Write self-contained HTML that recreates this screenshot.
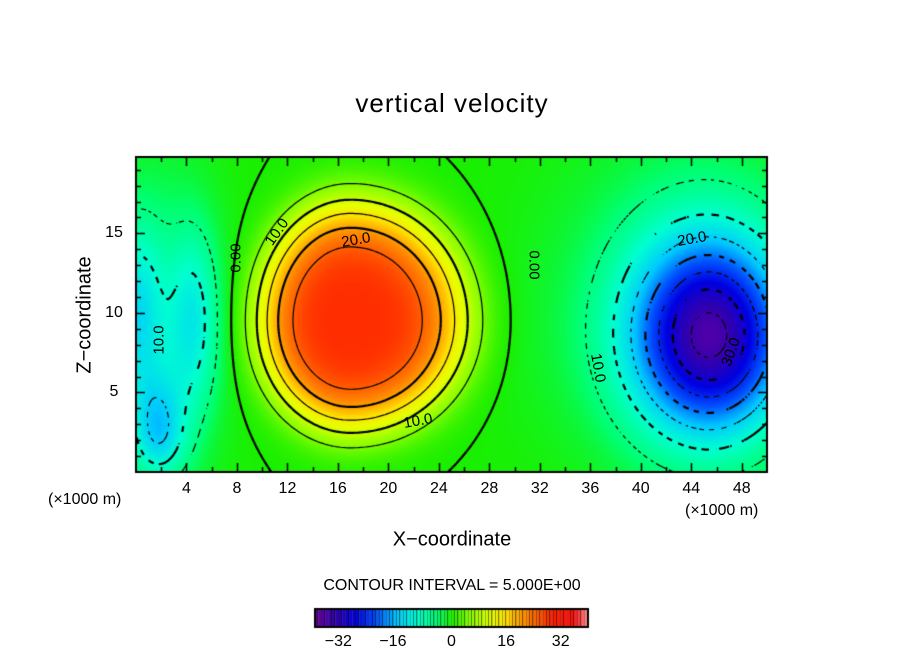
<!DOCTYPE html>
<html><head><meta charset="utf-8">
<style>
html,body{margin:0;padding:0;background:#fff;}
#wrap{position:relative;width:904px;height:654px;overflow:hidden;font-family:"Liberation Sans",sans-serif;color:#000;}
.t{position:absolute;white-space:nowrap;}
.lbl{position:absolute;font-size:16px;line-height:16px;transform:translate(-50%,-50%);white-space:nowrap;}
.cl{position:absolute;font-size:15px;line-height:15px;white-space:nowrap;transform:translate(-50%,-50%);}
</style></head><body>
<div id="wrap">
<div class="t" style="left:0;width:904px;text-align:center;top:88px;font-size:26px;letter-spacing:1px;">vertical velocity</div>
<canvas id="cv" width="904" height="654" style="position:absolute;left:0;top:0;"></canvas>
<div class="t" style="left:85px;top:315px;font-size:20px;transform:translate(-50%,-50%) rotate(-90deg);">Z−coordinate</div>
<div class="t" style="left:452px;top:540px;font-size:20px;transform:translate(-50%,-50%);">X−coordinate</div>
<div class="t" style="left:48px;top:491px;font-size:16px;">(×1000 m)</div>
<div class="t" style="left:685px;top:502px;font-size:16px;">(×1000 m)</div>
<div class="t" style="left:452px;top:586px;font-size:16px;transform:translate(-50%,-50%);">CONTOUR INTERVAL = 5.000E+00</div>
<div class="cl" style="left:236px;top:258px;transform:translate(-50%,-50%) rotate(-90deg);">0.00</div>
<div class="cl" style="left:534px;top:265px;transform:translate(-50%,-50%) rotate(90deg);">0.00</div>
<div class="cl" style="left:277px;top:232px;transform:translate(-50%,-50%) rotate(-55deg);">10.0</div>
<div class="cl" style="left:356px;top:240px;transform:translate(-50%,-50%) rotate(-10deg);">20.0</div>
<div class="cl" style="left:418px;top:421px;transform:translate(-50%,-50%) rotate(-10deg);">10.0</div>
<div class="cl" style="left:159px;top:340px;transform:translate(-50%,-50%) rotate(-90deg);">10.0</div>
<div class="cl" style="left:598px;top:368px;transform:translate(-50%,-50%) rotate(80deg);">10.0</div>
<div class="cl" style="left:692px;top:239px;transform:translate(-50%,-50%) rotate(-10deg);">20.0</div>
<div class="cl" style="left:731px;top:352px;transform:translate(-50%,-50%) rotate(-70deg);">30.0</div>
<div id="labels"></div>
</div>
<script>
// blob model of the vertical velocity field
const blobX   = [17.0, 45.5, 44.5, 1.8, 0.0, 4.6, 2.0];
const blobZ   = [9.5, 8.5, 9.5, 2.5, 10.0, 9.5, 9.0];
const blobAmp = [29, -30, -7, -12, -10, -9, -5];
const blobSxL = [5.2, 4.2, 7, 1.5, 1.5, 1.4, 3];
const blobSxR = [6.5, 4.2, 6, 1.5, 1.5, 1.4, 3];
const blobSzD = [4.9, 4.2, 6, 2.0, 4.0, 4.0, 7];
const blobSzU = [5.3, 4.2, 7, 2.5, 4.0, 4.0, 7];
const blobP   = [2, 1, 1, 1, 1, 1, 1];
const xTicks = [4,8,12,16,20,24,28,32,36,40,44,48];
const zTicks = [5,10,15];
const cbTicks = [-32,-16,0,16,32];
const xMin=0,xMax=50,zMin=0,zMax=19.8;
const PL=136,PR=767,PT=157,PB=472;
const sx=v=>PL+(v-xMin)/(xMax-xMin)*(PR-PL);
const sz=v=>PB-(v-zMin)/(zMax-zMin)*(PB-PT);
function field(x,z){
  let s=0;
  for(let i=0;i<blobX.length;i++){
    const dx=x-blobX[i],dz=z-blobZ[i];
    const gx=dx<0?blobSxL[i]:blobSxR[i], gz=dz<0?blobSzD[i]:blobSzU[i];
    const q=(dx/gx)*(dx/gx)+(dz/gz)*(dz/gz);
    s+=blobAmp[i]*Math.exp(-Math.pow(q/2,blobP[i]));
  }
  return s;
}
const stops=[[-40,[112,0,160]],[-34,[48,0,176]],[-28,[0,0,224]],[-22,[0,80,255]],[-16,[0,200,255]],[-10,[0,255,208]],[-4,[0,255,112]],[0,[26,239,0]],[6,[144,255,0]],[12,[232,255,0]],[16,[255,224,0]],[20,[255,160,0]],[25,[255,96,0]],[30,[255,32,0]],[36,[255,16,16]],[40,[255,144,144]]];
function cmap(v){
  if(v<=stops[0][0])return stops[0][1];
  for(let i=1;i<stops.length;i++){
    if(v<=stops[i][0]){const a=stops[i-1],b=stops[i],t=(v-a[0])/(b[0]-a[0]);
      return [0,1,2].map(k=>Math.round(a[1][k]+(b[1][k]-a[1][k])*t));}
  }
  return stops[stops.length-1][1];
}
const cv=document.getElementById('cv'),ctx=cv.getContext('2d');
const W=PR-PL,H=PB-PT;
const img=ctx.createImageData(W,H);
for(let j=0;j<H;j++){const z=zMax-(j+0.5)/H*(zMax-zMin);
  for(let i=0;i<W;i++){const x=xMin+(i+0.5)/W*(xMax-xMin);
    const c=cmap(field(x,z));const o=(j*W+i)*4;
    img.data[o]=c[0];img.data[o+1]=c[1];img.data[o+2]=c[2];img.data[o+3]=255;}}
ctx.putImageData(img,PL,PT);
const NX=250,NZ=110;
const g=[];for(let j=0;j<=NZ;j++){g.push([]);for(let i=0;i<=NX;i++)g[j].push(field(xMin+i/NX*(xMax-xMin),zMin+j/NZ*(zMax-zMin)));}
const gx=i=>sx(xMin+i/NX*(xMax-xMin)),gz=j=>sz(zMin+j/NZ*(zMax-zMin));
ctx.save();ctx.beginPath();ctx.rect(PL,PT,W,H);ctx.clip();
for(let lev=-40;lev<=40;lev+=5){
  const thick=(lev%10===0);ctx.lineWidth=thick?2.2:1.2;ctx.strokeStyle='#000';
  const neg=lev<0;
  ctx.beginPath();
  for(let j=0;j<NZ;j++)for(let i=0;i<NX;i++){
    const v=[g[j][i],g[j][i+1],g[j+1][i+1],g[j+1][i]];
    const P=[[gx(i),gz(j)],[gx(i+1),gz(j)],[gx(i+1),gz(j+1)],[gx(i),gz(j+1)]];
    const pts=[];
    for(let e=0;e<4;e++){const a=v[e],b=v[(e+1)%4];
      if((a<lev)!==(b<lev)){const t=(lev-a)/(b-a);const A=P[e],B=P[(e+1)%4];pts.push([A[0]+(B[0]-A[0])*t,A[1]+(B[1]-A[1])*t]);}}
    if(neg){const cx=P[0][0],cy=P[0][1];if(Math.floor((cx+cy)/(thick?8:5))%2)continue;}
    for(let k=0;k+1<pts.length;k+=2){ctx.moveTo(pts[k][0],pts[k][1]);ctx.lineTo(pts[k+1][0],pts[k+1][1]);}
  }
  ctx.stroke();
}
ctx.restore();
ctx.strokeStyle='#000';ctx.lineWidth=2;ctx.strokeRect(PL,PT,W,H);
ctx.lineWidth=1.5;ctx.beginPath();
for(let x=2;x<50;x+=2){const L=(x%4===0)?9:5;const X=Math.round(sx(x))+0.5;ctx.moveTo(X,PB);ctx.lineTo(X,PB-L);ctx.moveTo(X,PT);ctx.lineTo(X,PT+L);}
for(let z=1;z<20;z++){const L=(z%5===0)?9:5;const Y=Math.round(sz(z))+0.5;ctx.moveTo(PL,Y);ctx.lineTo(PL+L,Y);ctx.moveTo(PR,Y);ctx.lineTo(PR-L,Y);}
ctx.stroke();
const lab=document.getElementById('labels');
function addLabel(txt,x,y,name){const d=document.createElement('div');d.className='lbl';d.textContent=txt;d.style.left=x+'px';d.style.top=y+'px';
  
  
  lab.appendChild(d);}
xTicks.forEach(t=>addLabel(String(t),sx(t),489,'x-tick-label'));
zTicks.forEach(t=>addLabel(String(t),PL-22,sz(t),'y-tick-label'));
const cbL=315,cbR=588,cbT=609,cbB=627,cMin=-40,cMax=40;
const cbx=v=>cbL+(v-cMin)/(cMax-cMin)*(cbR-cbL);
for(let v=cMin;v<cMax;v++){const c=cmap(v+0.5);ctx.fillStyle='rgb('+c.join(',')+')';
  const a=cbx(v),b=cbx(v+1);ctx.fillRect(a,cbT,b-a,cbB-cbT);
  ctx.fillStyle='#000';ctx.fillRect(Math.round(b)-0.5,cbT,1,cbB-cbT);}
ctx.lineWidth=2;ctx.strokeRect(cbL,cbT,cbR-cbL,cbB-cbT);
cbTicks.forEach(t=>addLabel(t<0?'−'+(-t):String(t),cbx(t)-(t<0?4:0),642,'colorbar-tick-label'));
</script>
</body></html>
